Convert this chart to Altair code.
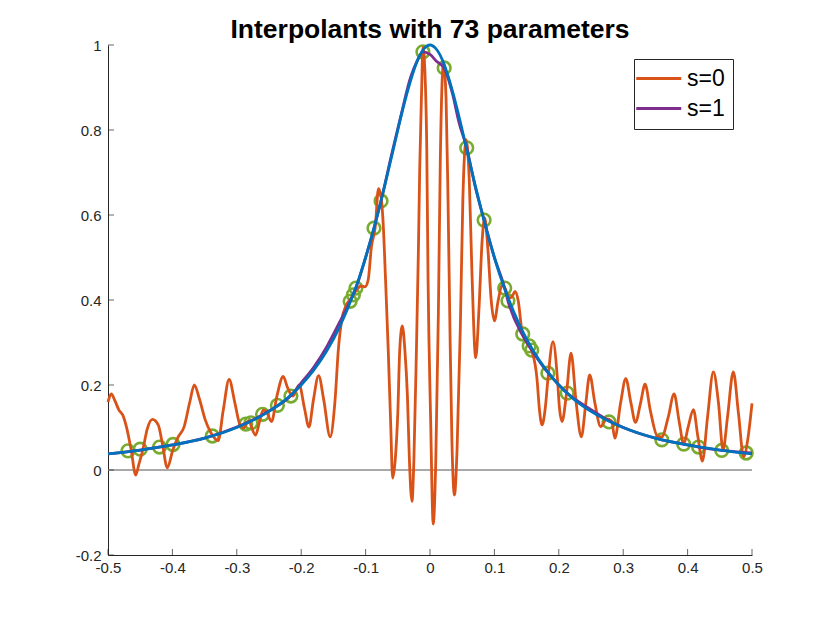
import altair as alt
import pandas as pd

# ---- data ----
orange_x = [-0.500,-0.495,-0.489,-0.483,-0.477,-0.471,-0.464,-0.457,-0.452,-0.446,
            -0.439,-0.431,-0.422,-0.415,-0.408,-0.399,-0.391,-0.382,-0.373,-0.366,
            -0.358,-0.349,-0.340,-0.329,-0.321,-0.312,-0.303,-0.295,-0.289,-0.282,
            -0.271,-0.264,-0.259,-0.254,-0.246,-0.238,-0.228,-0.221,-0.213,-0.203,
            -0.195,-0.188,-0.181,-0.173,-0.165,-0.155,-0.148,-0.142,-0.137,-0.130,
            -0.122,-0.114,-0.107,-0.101,-0.096,-0.091,-0.085,-0.080,-0.076,-0.073,
            -0.069,-0.065,-0.061,-0.058,-0.054,-0.050,-0.047,-0.043,-0.039,-0.035,
            -0.032,-0.028,-0.025,-0.021,-0.018,-0.016,-0.013,-0.011,-0.008,-0.005,
            -0.003,0.001,0.005,0.009,0.013,0.016,0.021,0.025,0.028,0.031,
            0.034,0.038,0.042,0.047,0.051,0.056,0.061,0.065,0.071,0.076,
            0.081,0.085,0.090,0.095,0.100,0.106,0.112,0.117,0.123,0.127,
            0.132,0.137,0.143,0.150,0.158,0.166,0.170,0.174,0.179,0.183,
            0.191,0.198,0.201,0.205,0.212,0.219,0.227,0.235,0.242,0.248,
            0.256,0.265,0.274,0.282,0.287,0.296,0.304,0.312,0.319,0.327,
            0.334,0.342,0.353,0.360,0.370,0.379,0.387,0.394,0.401,0.409,
            0.416,0.423,0.431,0.440,0.448,0.455,0.462,0.471,0.479,0.487,
            0.494,0.500]
orange_y = [0.160,0.179,0.162,0.141,0.129,0.099,0.047,-0.012,0.014,0.047,
            0.097,0.119,0.106,0.057,0.005,0.049,0.078,0.101,0.160,0.200,
            0.167,0.118,0.087,0.069,0.141,0.213,0.158,0.106,0.099,0.115,
            0.082,0.118,0.141,0.137,0.114,0.172,0.220,0.193,0.174,0.200,
            0.146,0.101,0.165,0.222,0.165,0.078,0.153,0.289,0.353,0.388,
            0.405,0.424,0.433,0.431,0.447,0.525,0.572,0.662,0.642,0.588,
            0.447,0.289,0.106,-0.019,0.024,0.134,0.282,0.339,0.282,0.172,
            0.024,-0.074,0.024,0.289,0.518,0.706,0.894,0.995,0.941,0.753,
            0.447,0.118,-0.127,0.024,0.369,0.729,0.958,0.871,0.635,0.329,
            0.071,-0.059,0.047,0.329,0.635,0.777,0.682,0.471,0.264,0.377,
            0.541,0.593,0.518,0.400,0.351,0.400,0.435,0.426,0.405,0.407,
            0.420,0.398,0.325,0.300,0.280,0.217,0.141,0.106,0.146,0.212,
            0.302,0.212,0.146,0.114,0.181,0.275,0.158,0.078,0.158,0.224,
            0.158,0.102,0.120,0.115,0.075,0.158,0.215,0.158,0.112,0.158,
            0.202,0.141,0.080,0.078,0.125,0.179,0.113,0.061,0.102,0.142,
            0.078,0.021,0.125,0.231,0.157,0.047,0.125,0.231,0.133,0.031,
            0.078,0.157]

purple_x = [-0.500,-0.450,-0.400,-0.350,-0.300,-0.250,-0.216,-0.200,-0.180,-0.160,
            -0.140,-0.124,-0.115,-0.100,-0.087,-0.076,-0.060,-0.045,-0.030,-0.020,
            -0.011,0.000,0.010,0.022,0.035,0.045,0.057,0.070,0.084,0.100,
            0.116,0.121,0.144,0.158,0.183,0.213,0.250,0.278,0.310,0.360,
            0.394,0.417,0.453,0.500]
purple_y = [0.038,0.047,0.059,0.075,0.101,0.139,0.175,0.205,0.243,0.291,
            0.349,0.397,0.428,0.500,0.569,0.633,0.740,0.835,0.925,0.962,
            0.984,0.978,0.962,0.946,0.885,0.818,0.758,0.668,0.588,0.500,
            0.428,0.398,0.316,0.282,0.229,0.181,0.142,0.116,0.094,0.071,
            0.061,0.054,0.046,0.040]

blue_x = [-0.500,-0.450,-0.400,-0.350,-0.300,-0.250,-0.220,-0.200,-0.180,-0.160,
          -0.140,-0.120,-0.110,-0.100,-0.090,-0.080,-0.070,-0.060,-0.050,-0.040,
          -0.030,-0.020,-0.010,0.000,0.010,0.020,0.030,0.040,0.050,0.060,
          0.070,0.080,0.090,0.100,0.110,0.120,0.140,0.160,0.180,0.200,
          0.220,0.250,0.300,0.350,0.400,0.450,0.500]
blue_y = [0.038,0.047,0.059,0.075,0.100,0.138,0.171,0.200,0.236,0.281,
          0.338,0.410,0.452,0.500,0.552,0.610,0.671,0.735,0.800,0.862,
          0.917,0.962,0.990,1.000,0.990,0.962,0.917,0.862,0.800,0.735,
          0.671,0.610,0.552,0.500,0.452,0.410,0.338,0.281,0.236,0.200,
          0.171,0.138,0.100,0.075,0.059,0.047,0.038]

pts_x = [-0.469,-0.450,-0.420,-0.399,-0.338,-0.286,-0.278,-0.260,-0.237,-0.216,
         -0.124,-0.119,-0.115,-0.087,-0.076,-0.011,0.022,0.057,0.084,0.116,
         0.121,0.144,0.154,0.158,0.183,0.213,0.278,0.360,0.394,0.417,
         0.453,0.491]
pts_y = [0.045,0.049,0.054,0.060,0.080,0.108,0.111,0.131,0.152,0.174,
         0.397,0.412,0.428,0.569,0.633,0.984,0.946,0.758,0.588,0.428,
         0.398,0.320,0.292,0.282,0.228,0.181,0.113,0.071,0.061,0.054,
         0.046,0.040]

x_ticks = [-0.5, -0.4, -0.3, -0.2, -0.1, 0, 0.1, 0.2, 0.3, 0.4, 0.5]
y_ticks = [-0.2, 0, 0.2, 0.4, 0.6, 0.8, 1]
series_names = ["s=0", "s=1"]

ORANGE = "#D95319"
PURPLE = "#7E2F8E"
BLUE = "#0072BD"
GREEN = "#77AC30"
AXIS = "#262626"
FONT = "Liberation Sans"

# ---- tables ----
curves = pd.concat([
    pd.DataFrame({"x": orange_x, "y": orange_y, "series": series_names[0]}),
    pd.DataFrame({"x": purple_x, "y": purple_y, "series": series_names[1]}),
])
blue_df = pd.DataFrame({"x": blue_x, "y": blue_y})
pts_df = pd.DataFrame({"x": pts_x, "y": pts_y})
xt_df = pd.DataFrame({"x": x_ticks, "y": [y_ticks[0]] * len(x_ticks)})
yt_df = pd.DataFrame({"x": [x_ticks[0]] * len(y_ticks), "y": y_ticks})
zero_df = pd.DataFrame({"y": [0]})

xscale = alt.Scale(domain=[-0.5, 0.5], nice=False, zero=False)
yscale = alt.Scale(domain=[-0.2, 1], nice=False, zero=False)

common_axis = dict(labelExpr="'' + datum.value", title=None, ticks=False,
                   grid=False, labelFontSize=15, labelFont=FONT,
                   labelColor=AXIS, domainColor=AXIS, labelFlush=False,
                   labelOverlap=False)
xaxis = alt.Axis(values=x_ticks, labelPadding=5, **common_axis)
yaxis = alt.Axis(values=y_ticks, labelPadding=7, **common_axis)

X = alt.X("x:Q", scale=xscale, axis=xaxis)
Y = alt.Y("y:Q", scale=yscale, axis=yaxis)

zero = alt.Chart(zero_df).mark_rule(color="#8c8c8c", strokeWidth=1.4).encode(
    y=alt.Y("y:Q", scale=yscale, axis=yaxis))

circles = alt.Chart(pts_df).mark_point(
    shape="circle", filled=False, size=160, strokeWidth=2.6, color=GREEN, opacity=1
).encode(x=X, y=Y)

lines = alt.Chart(curves).mark_line(strokeWidth=2.8, interpolate="monotone").encode(
    x=X, y=Y,
    color=alt.Color("series:N",
                    scale=alt.Scale(domain=series_names, range=[ORANGE, PURPLE]),
                    legend=alt.Legend(orient="none", legendX=526, legendY=14,
                                      title=None, symbolType="M-2.3,0H3.7",
                                      symbolSize=225, symbolStrokeWidth=3,
                                      labelFontSize=23, labelFont=FONT,
                                      labelColor="black", labelOffset=22,
                                      rowPadding=6, padding=8,
                                      strokeColor=AXIS, fillColor="white")),
    order=alt.Order("x:Q"),
)

blue = alt.Chart(blue_df).mark_line(strokeWidth=2.8, color=BLUE,
                                     interpolate="monotone").encode(x=X, y=Y)

xticks_m = alt.Chart(xt_df).mark_tick(orient="vertical", size=6, thickness=1,
                                      color=AXIS, yOffset=-3).encode(x=X, y=Y)
yticks_m = alt.Chart(yt_df).mark_tick(orient="horizontal", size=6, thickness=1,
                                      color=AXIS, xOffset=3).encode(x=X, y=Y)

chart = alt.layer(zero, circles, lines, blue, xticks_m, yticks_m).properties(
    width=644, height=510,
    title=alt.TitleParams("Interpolants with 73 parameters", font=FONT,
                          fontSize=26.5, fontWeight="bold", color="black",
                          anchor="middle", frame="group", offset=-5),
    autosize=alt.AutoSizeParams(type="none"),
    padding={"left": 100, "top": 37, "right": 70, "bottom": 60},
    view=alt.ViewBackground(stroke="transparent", strokeWidth=0),
).configure_view(strokeWidth=0, stroke="transparent").configure_axis(
    domainColor=AXIS, domainWidth=1, labelFont=FONT, labelFontSize=15,
    labelColor=AXIS,
).configure(background="white")

chart.save("out.html", embed_options={"renderer": "svg", "actions": False})
